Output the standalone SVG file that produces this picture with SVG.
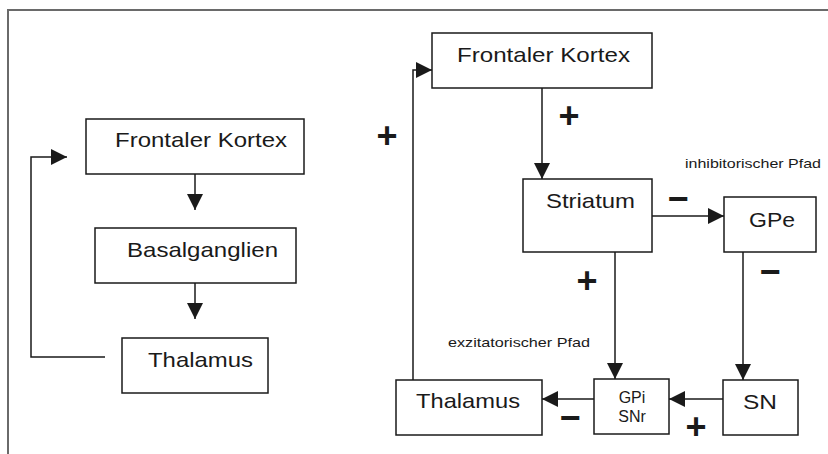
<svg xmlns="http://www.w3.org/2000/svg" width="828" height="454" viewBox="0 0 828 454">
<defs>
<marker id="ah" markerUnits="userSpaceOnUse" markerWidth="16" markerHeight="16" viewBox="0 0 15 15" refX="15" refY="7.5" orient="auto">
<path d="M0,0 L15,7.5 L0,15 Z" fill="#1a1a1a"/>
</marker>
<style>
.box{fill:#fff;stroke:#1a1a1a;stroke-width:1.5}
.lbl{font-family:"Liberation Sans",Arial,sans-serif;font-size:21px;fill:#1a1a1a}
.sm{font-family:"Liberation Sans",Arial,sans-serif;font-size:13px;fill:#1a1a1a}
.mid{font-family:"Liberation Sans",Arial,sans-serif;font-size:16px;fill:#1a1a1a;text-anchor:middle}
.sign{font-family:"Liberation Sans",Arial,sans-serif;font-size:36px;font-weight:bold;fill:#1a1a1a;text-anchor:middle}
.ln{fill:none;stroke:#1a1a1a;stroke-width:1.5}
.frame{fill:none;stroke:#6a6a6a;stroke-width:2}
</style>
</defs>
<rect width="828" height="454" fill="#fff"/>
<path class="frame" d="M8,454 L8,10 L828,10"/>

<g id="connectors">
<path class="ln" d="M195,174 L195,210" marker-end="url(#ah)"/>
<path class="ln" d="M195,283 L195,319" marker-end="url(#ah)"/>
<path class="ln" d="M105,357 L31,357 L31,157 L67,157" marker-end="url(#ah)"/>
<path class="ln" d="M413,380 L413,70 L432,70" marker-end="url(#ah)"/>
<path class="ln" d="M542,88 L542,179" marker-end="url(#ah)"/>
<path class="ln" d="M652,216 L724,216" marker-end="url(#ah)"/>
<path class="ln" d="M615,252 L615,379" marker-end="url(#ah)"/>
<path class="ln" d="M743,252 L743,380" marker-end="url(#ah)"/>
<path class="ln" d="M725,399 L669,399" marker-end="url(#ah)"/>
<path class="ln" d="M597,399 L542,399" marker-end="url(#ah)"/>
</g>

<g id="l-frontal">
<rect class="box" x="86" y="119" width="218" height="55"/>
<text class="lbl" x="115" y="147" textLength="172" lengthAdjust="spacingAndGlyphs">Frontaler Kortex</text>
</g>
<g id="l-basal">
<rect class="box" x="95" y="228" width="201" height="55"/>
<text class="lbl" x="127" y="257" textLength="151" lengthAdjust="spacingAndGlyphs">Basalganglien</text>
</g>
<g id="l-thalamus">
<rect class="box" x="122" y="338" width="146" height="55"/>
<text class="lbl" x="148" y="367" textLength="105" lengthAdjust="spacingAndGlyphs">Thalamus</text>
</g>

<g id="r-frontal">
<rect class="box" x="432" y="33" width="220" height="55"/>
<text class="lbl" x="457" y="62" textLength="173" lengthAdjust="spacingAndGlyphs">Frontaler Kortex</text>
</g>
<g id="r-striatum">
<rect class="box" x="523" y="179" width="129" height="73"/>
<text class="lbl" x="546" y="208" textLength="89" lengthAdjust="spacingAndGlyphs">Striatum</text>
</g>
<g id="r-gpe">
<rect class="box" x="724" y="197" width="92" height="55"/>
<text class="lbl" x="749" y="227" textLength="46" lengthAdjust="spacingAndGlyphs">GPe</text>
</g>
<g id="r-thalamus">
<rect class="box" x="396" y="380" width="146" height="55"/>
<text class="lbl" x="416" y="408" textLength="104" lengthAdjust="spacingAndGlyphs">Thalamus</text>
</g>
<g id="r-gpisnr">
<rect class="box" x="594" y="379" width="75" height="55"/>
<text class="mid" x="632" y="403">GPi</text>
<text class="mid" x="632" y="422">SNr</text>
</g>
<g id="r-sn">
<rect class="box" x="723" y="380" width="75" height="55"/>
<text class="lbl" x="743" y="409" textLength="34" lengthAdjust="spacingAndGlyphs">SN</text>
</g>

<g id="labels">
<text class="sm" x="685" y="168" textLength="136" lengthAdjust="spacingAndGlyphs">inhibitorischer Pfad</text>
<text class="sm" x="448" y="347" textLength="142" lengthAdjust="spacingAndGlyphs">exzitatorischer Pfad</text>
<text class="sign" x="387" y="148">+</text>
<text class="sign" x="569" y="128">+</text>
<text class="sign" x="587" y="293">+</text>
<text class="sign" x="696" y="439">+</text>
<text class="sign" x="678" y="211">−</text>
<text class="sign" x="770" y="284">−</text>
<text class="sign" x="570" y="430">−</text>
</g>
</svg>
